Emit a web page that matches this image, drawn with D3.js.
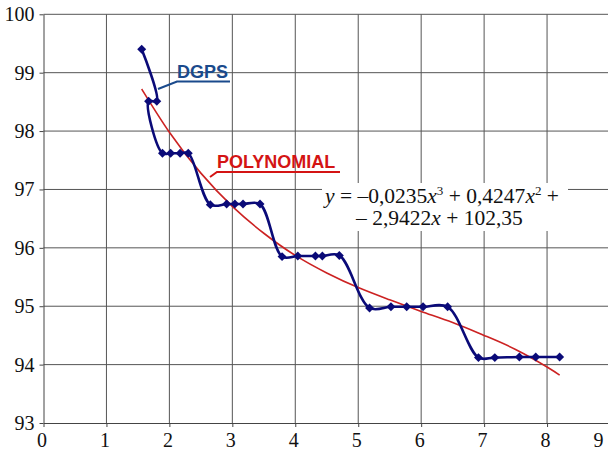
<!DOCTYPE html>
<html>
<head>
<meta charset="utf-8">
<script src="https://cdn.jsdelivr.net/npm/d3@7"></script>
<style>
  body { margin: 0; background: #fff; }
  #chart { width: 608px; height: 452px; overflow: hidden; }
</style>
</head>
<body>
<div id="chart"></div>
<script>
const dgpsX = [1.56, 1.80, 1.67, 1.89, 2.02, 2.17, 2.30, 2.65, 2.91, 3.04, 3.17, 3.44,
               3.79, 4.04, 4.32, 4.43, 4.70, 5.18, 5.52, 5.77, 6.03, 6.42,
               6.91, 7.17, 7.56, 7.82, 8.20];
const dgpsY = [99.40, 98.51, 98.51, 97.62, 97.62, 97.62, 97.62, 96.74, 96.75, 96.75, 96.75, 96.75,
               95.85, 95.86, 95.86, 95.86, 95.87, 94.97, 94.99, 94.99, 94.99, 94.99,
               94.12, 94.12, 94.13, 94.13, 94.13];

// trend curve
const polyX = [1.56, 2.0, 2.5, 3.0, 3.5, 4.0, 4.5, 5.0, 5.5, 6.0, 6.5, 7.0, 7.5, 8.0, 8.2];
const polyY = [98.72, 97.98, 97.28, 96.71, 96.25, 95.87, 95.57, 95.32, 95.11, 94.91, 94.72, 94.50, 94.26, 93.96, 93.82];

const xTicks = [0, 1, 2, 3, 4, 5, 6, 7, 8, 9];
const yTicks = [93, 94, 95, 96, 97, 98, 99, 100];

const W = 608, H = 452;
const m = { left: 43.5, top: 14.3, right: 610, bottom: 423 };

const svg = d3.select("#chart").append("svg")
    .attr("width", W).attr("height", H);

const x = d3.scaleLinear().domain([0, 9]).range([m.left, m.right]);
const y = d3.scaleLinear().domain([93, 100]).range([m.bottom, m.top]);

// grid
svg.append("g").selectAll("line")
    .data(xTicks.slice(1))
    .join("line")
    .attr("x1", d => x(d)).attr("x2", d => x(d))
    .attr("y1", m.top).attr("y2", m.bottom)
    .attr("stroke", "#555").attr("stroke-width", 1);
svg.append("g").selectAll("line")
    .data(yTicks.slice(1))
    .join("line")
    .attr("x1", m.left).attr("x2", m.right)
    .attr("y1", d => y(d)).attr("y2", d => y(d))
    .attr("stroke", "#555").attr("stroke-width", 1);

// axes
const xAxis = svg.append("g")
    .attr("transform", `translate(0,${m.bottom})`)
    .call(d3.axisBottom(x).tickValues(xTicks).tickFormat(d3.format("d"))
        .tickSize(4).tickPadding(6).tickSizeOuter(0));
const yAxis = svg.append("g")
    .attr("transform", `translate(${m.left},0)`)
    .call(d3.axisLeft(y).tickValues(yTicks).tickFormat(d3.format("d"))
        .tickSize(4).tickPadding(5).tickSizeOuter(0));

[xAxis, yAxis].forEach(a => {
    a.select(".domain").attr("stroke", "#444");
    a.selectAll(".tick line").attr("stroke", "#444");
    a.selectAll("text")
        .attr("font-family", "'Liberation Serif', 'Times New Roman', serif")
        .attr("font-size", 20)
        .attr("fill", "#111");
});
xAxis.selectAll(".tick text").attr("dx", d => d === 9 ? -12 : -2);

// equation box
const eq = svg.append("g");
eq.append("rect")
    .attr("x", 322).attr("y", 183).attr("width", 246).attr("height", 48)
    .attr("fill", "#fff");
const eqFont = "'Liberation Serif', 'Times New Roman', serif";
const t1 = eq.append("text")
    .attr("x", 325).attr("y", 203)
    .attr("font-family", eqFont).attr("font-size", 21.5).attr("fill", "#111");
t1.append("tspan").attr("font-style", "italic").text("y");
t1.append("tspan").text(" = –0,0235");
t1.append("tspan").attr("font-style", "italic").text("x");
t1.append("tspan").attr("font-size", 13).attr("dy", -8).text("3");
t1.append("tspan").attr("dy", 8).text(" + 0,4247");
t1.append("tspan").attr("font-style", "italic").text("x");
t1.append("tspan").attr("font-size", 13).attr("dy", -8).text("2");
t1.append("tspan").attr("dy", 8).text(" +");
const t2 = eq.append("text")
    .attr("x", 356).attr("y", 225)
    .attr("font-family", eqFont).attr("font-size", 21.5).attr("fill", "#111");
t2.append("tspan").text("– 2,9422");
t2.append("tspan").attr("font-style", "italic").text("x");
t2.append("tspan").text(" + 102,35");

// polynomial trend
const polyPts = polyX.map((v, i) => [v, polyY[i]]);
svg.append("path")
    .datum(polyPts)
    .attr("fill", "none")
    .attr("stroke", "#cc2222")
    .attr("stroke-width", 1.6)
    .attr("d", d3.line().x(d => x(d[0])).y(d => y(d[1])).curve(d3.curveNatural));

// DGPS line
const dgpsPts = dgpsX.map((v, i) => [v, dgpsY[i]]);
svg.append("path")
    .datum(dgpsPts)
    .attr("fill", "none")
    .attr("stroke", "#0a0a78")
    .attr("stroke-width", 2.6)
    .attr("stroke-linejoin", "round")
    .attr("d", d3.line().x(d => x(d[0])).y(d => y(d[1])).curve(d3.curveCatmullRom.alpha(0.5)));

svg.append("g").selectAll("path")
    .data(dgpsPts)
    .join("path")
    .attr("d", d3.symbol(d3.symbolSquare, 40))
    .attr("transform", d => `translate(${x(d[0])},${y(d[1])}) rotate(45)`)
    .attr("fill", "#0a0a78");

// labels with leader lines
const lab = svg.append("g").attr("font-family", "Arial, 'Liberation Sans', sans-serif")
    .attr("font-weight", "bold").attr("font-size", 18);
lab.append("text").attr("x", 177).attr("y", 78).attr("fill", "#1a4a8c").text("DGPS");
lab.append("path").attr("d", "M158,89 L177,81.5 L230,81.5")
    .attr("fill", "none").attr("stroke", "#1a4a8c").attr("stroke-width", 2);
lab.append("text").attr("x", 217).attr("y", 168).attr("fill", "#d41414").text("POLYNOMIAL");
lab.append("path").attr("d", "M210,177 L217,172 L340,172")
    .attr("fill", "none").attr("stroke", "#d41414").attr("stroke-width", 2);
</script>
</body>
</html>
